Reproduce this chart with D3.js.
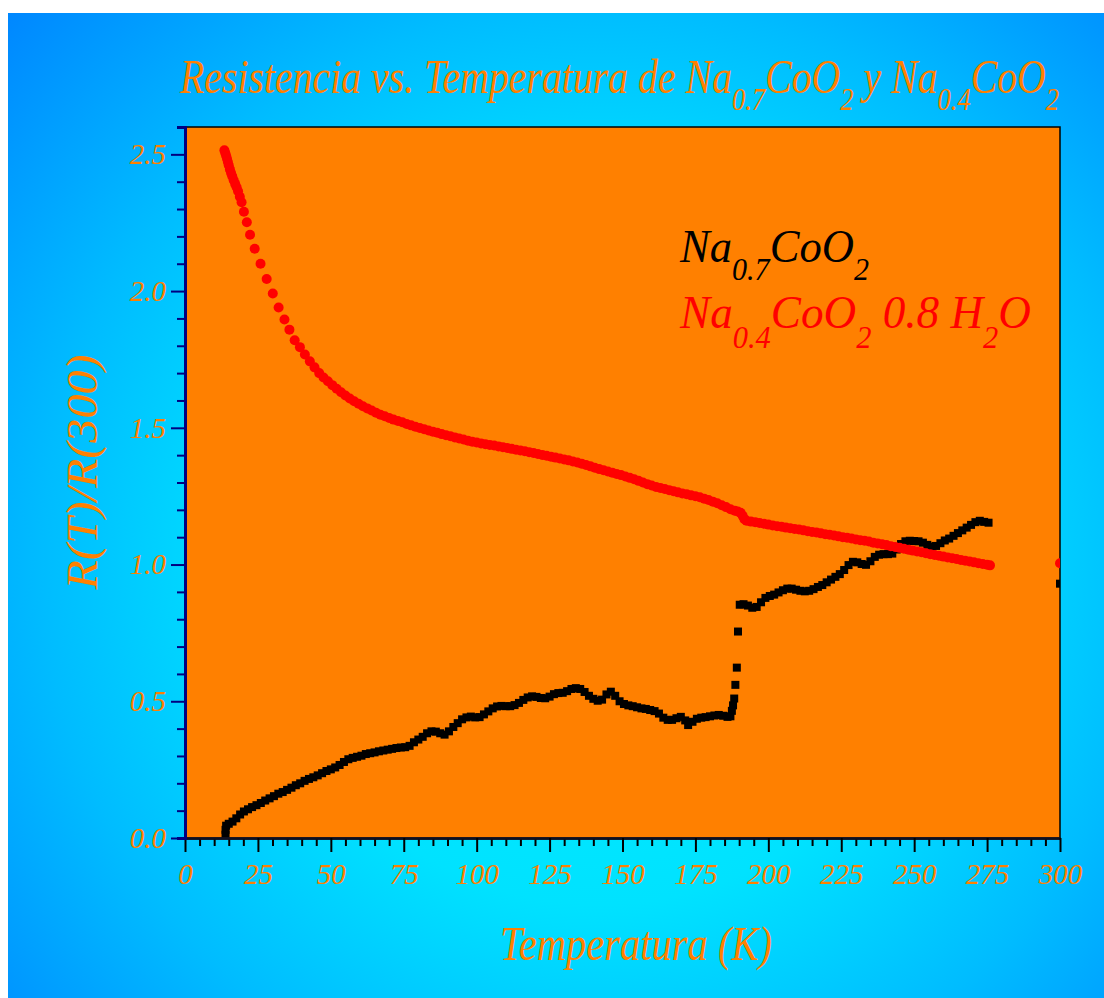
<!DOCTYPE html>
<html>
<head>
<meta charset="utf-8">
<script src="https://cdn.jsdelivr.net/npm/d3@7"></script>
<style>
  html, body { margin: 0; padding: 0; background: #ffffff; }
  svg { display: block; }
</style>
</head>
<body>
<svg id="chart" width="1104" height="998"></svg>
<script>
// Na0.4CoO2·0.8H2O : [temperature (K), R(T)/R(300)]
const na04Points = [
  [13.5,2.515],[13.8,2.505],[14.1,2.495],[14.4,2.484],[14.7,2.472],[15.0,2.46],[15.4,2.445],[15.8,2.432],
  [16.2,2.42],[16.7,2.405],[17.2,2.392],[17.7,2.38],[18.2,2.365],[18.8,2.345],[19.4,2.325],[20.2,2.29],
  [21.2,2.252],[22.3,2.206],[23.9,2.155],[25.9,2.1],[28.0,2.044],[30.1,1.991],[32.1,1.94],[34.1,1.896],
  [35.8,1.859],[37.6,1.82],[39.4,1.795],[41.1,1.768],[42.8,1.743],[44.4,1.721],
  [46,1.7],[47.5,1.684],[49,1.67],[50.5,1.656],[52,1.643],[53.5,1.63],[55,1.618],[56.5,1.607],
  [58,1.597],[59.5,1.588],[61,1.579],[62.5,1.571],[64,1.563],[65.5,1.555],[67,1.548],[68.5,1.542],
  [70,1.536],[71.5,1.53],[73,1.525],[74.5,1.52],[76,1.514],[77.5,1.509],[79,1.504],[80.5,1.499],
  [82,1.495],[83.5,1.49],[85,1.486],[86.5,1.482],[88,1.477],[89.5,1.473],[91,1.469],[92.5,1.465],
  [94,1.461],[95.5,1.457],[97,1.453],[98.5,1.449],[100,1.446],[101.5,1.443],[103,1.44],[104.5,1.437],
  [106,1.435],[107.5,1.432],[109,1.429],[110.5,1.426],[112,1.423],[113.5,1.42],[115,1.417],[116.5,1.414],
  [118,1.411],[119.5,1.408],[121,1.404],[122.5,1.401],[124,1.398],[125.5,1.394],[127,1.391],[128.5,1.388],
  [130,1.384],[131.5,1.381],[133,1.377],[134.5,1.373],[136,1.369],[137.5,1.364],[139,1.359],[140.5,1.354],
  [142,1.349],[143.5,1.345],[145,1.34],[146.5,1.336],[148,1.331],[149.5,1.327],[151,1.322],[152.5,1.317],
  [154,1.312],[155.5,1.306],[157,1.3],[158.5,1.294],[160,1.289],[161.5,1.284],[163,1.28],[164.5,1.276],
  [166,1.272],[167.5,1.268],[169,1.264],[170.5,1.26],[172,1.257],[173.5,1.253],[175,1.25],[176.5,1.246],
  [178,1.241],[179.5,1.236],[181,1.23],[182.5,1.224],[184,1.217],[185.5,1.21],[187,1.202],[188.5,1.197],
  [189.5,1.194],[190.5,1.189],[191.2,1.178],[191.8,1.166],[192.5,1.16],[194,1.157],[195.5,1.155],[197,1.152],
  [198.5,1.149],[200,1.146],[201.5,1.143],[203,1.14],[204.5,1.138],[206,1.135],[207.5,1.133],[209,1.13],
  [210.5,1.128],[212,1.125],[213.5,1.122],[215,1.119],[216.5,1.117],[218,1.114],[219.5,1.111],[221,1.109],
  [222.5,1.106],[224,1.103],[225.5,1.1],[227,1.098],[228.5,1.095],[230,1.092],[231.5,1.089],[233,1.087],
  [234.5,1.084],[236,1.08],[237.5,1.077],[239,1.074],[240.5,1.071],[242,1.067],[243.5,1.064],[245,1.061],
  [246.5,1.058],[248,1.054],[249.5,1.051],[251,1.048],[252.5,1.045],[254,1.041],[255.5,1.038],[257,1.035],
  [258.5,1.032],[260,1.029],[261.5,1.026],[263,1.023],[264.5,1.02],[266,1.017],[267.5,1.014],[269,1.011],
  [270.5,1.008],[272,1.005],[273.5,1.002],[275,0.999],[276,0.997],[300,1.005]
];

// Na0.7CoO2 : [temperature (K), R(T)/R(300)]
const na07Points = [
  [13.9,0.012],[13.9,0.03],[14.1,0.045],[15.0,0.052],[16.3,0.06],[17.6,0.072],[18.9,0.086],[20.2,0.097],
  [21.6,0.105],[23.0,0.113],[24.5,0.12],[26.0,0.128],[27.5,0.137],[29.0,0.145],[30.5,0.153],[32.0,0.162],
  [33.5,0.168],[35.0,0.176],[36.5,0.184],[38.0,0.193],[39.5,0.2],[41.0,0.209],[42.5,0.216],[44.0,0.222],
  [45.5,0.229],[47.0,0.237],[48.5,0.245],[50.0,0.251],[51.5,0.258],[53.0,0.267],[54.5,0.278],[56.0,0.288],
  [57.5,0.293],[59.0,0.297],[60.5,0.301],[62.0,0.307],[63.5,0.31],[65.0,0.313],[66.5,0.317],[68.0,0.32],
  [69.5,0.323],[71.0,0.326],[72.5,0.329],[74.0,0.331],[75.5,0.332],[77.0,0.337],[78.5,0.35],[80.0,0.36],
  [81.5,0.37],[83.0,0.383],[84.5,0.39],[86.0,0.389],[87.5,0.383],[89.0,0.378],[90.5,0.39],[92.0,0.406],
  [93.5,0.42],[95.0,0.434],[96.5,0.441],[98.0,0.444],[99.5,0.441],[101.0,0.442],[102.5,0.452],[104.0,0.463],
  [105.5,0.474],[107.0,0.481],[108.5,0.483],[110.0,0.482],[111.5,0.482],[113.0,0.486],[114.5,0.494],[116.0,0.505],
  [117.5,0.514],[119.0,0.518],[120.5,0.516],[122.0,0.512],[123.5,0.511],[125.0,0.517],[126.5,0.526],[128.0,0.53],
  [129.5,0.531],[131.0,0.537],[132.5,0.545],[134.0,0.548],[135.5,0.545],[137.0,0.534],[138.5,0.52],[140.0,0.509],
  [141.5,0.502],[143.0,0.506],[144.5,0.525],[146.0,0.535],[147.5,0.52],[149.0,0.5],[150.5,0.49],[152.0,0.485],
  [153.5,0.482],[155.0,0.478],[156.5,0.474],[158.0,0.472],[159.5,0.468],[161.0,0.464],[162.5,0.455],[164.0,0.44],
  [165.5,0.432],[167.0,0.432],[168.5,0.438],[170.0,0.443],[171.5,0.43],[172.5,0.413],[174.0,0.425],[175.5,0.436],
  [177.0,0.44],[178.5,0.442],[180.0,0.445],[181.5,0.448],[183.0,0.45],[184.5,0.447],[186.0,0.443],[187.0,0.445],
  [187.5,0.465],[187.9,0.485],[188.3,0.51],[188.7,0.56],[189.2,0.623],[189.6,0.755],[190.2,0.853],[191.5,0.855],
  [193.0,0.85],[194.5,0.842],[196.0,0.845],[197.5,0.862],[199.0,0.878],[200.5,0.885],[202.0,0.89],[203.5,0.898],
  [205.0,0.906],[206.5,0.912],[208.0,0.912],[209.5,0.908],[211.0,0.904],[212.5,0.902],[214.0,0.904],[215.5,0.91],
  [217.0,0.918],[218.5,0.925],[220.0,0.935],[221.5,0.945],[223.0,0.955],[224.5,0.965],[226.0,0.98],[227.5,0.998],
  [229.0,1.01],[230.5,1.008],[232.0,1.002],[233.5,0.999],[235.0,1.012],[236.5,1.028],[238.0,1.036],[239.5,1.038],
  [241.0,1.038],[242.5,1.04],[244.0,1.055],[245.5,1.075],[247.0,1.085],[248.5,1.087],[250.0,1.086],[251.5,1.085],
  [253.0,1.08],[254.5,1.072],[256.0,1.066],[257.5,1.068],[259.0,1.078],[260.5,1.088],[262.0,1.095],[263.5,1.105],
  [265.0,1.115],[266.5,1.125],[268.0,1.135],[269.5,1.145],[271.0,1.155],[272.5,1.16],[274.0,1.156],[275.5,1.153],
  [300,0.93]
];

const xMajorTicks = [0, 25, 50, 75, 100, 125, 150, 175, 200, 225, 250, 275, 300];
const xTickLabels = ["0", "25", "50", "75", "100", "125", "150", "175", "200", "225", "250", "275", "300"];
const yMajorTicks = [0, 0.5, 1.0, 1.5, 2.0, 2.5];
const yTickLabels = ["0.0", "0.5", "1.0", "1.5", "2.0", "2.5"];
const xMinorStep = 5;
const yMinorStep = 0.1;

const titleParts = [
  { t: "Resistencia vs. Temperatura de Na" }, { t: "0.7", sub: true }, { t: "CoO" }, { t: "2", sub: true },
  { t: " y Na" }, { t: "0.4", sub: true }, { t: "CoO" }, { t: "2", sub: true }
];
const legendNa07 = [{ t: "Na" }, { t: "0.7", sub: true }, { t: "CoO" }, { t: "2", sub: true }];
const legendNa04 = [
  { t: "Na" }, { t: "0.4", sub: true }, { t: "CoO" }, { t: "2", sub: true },
  { t: " 0.8 H" }, { t: "2", sub: true }, { t: "O" }
];
const xTitle = "Temperatura (K)";
const yTitle = "R(T)/R(300)";

// ---- layout ----
const svg = d3.select("#chart");
const plot = { left: 185, right: 1060, top: 127, bottom: 838 };
const FONT = "'Liberation Serif', 'Times New Roman', serif";
const ORANGE = "#ff8000";

const x = d3.scaleLinear().domain([0, 300]).range([plot.left, plot.right]);
const y = d3.scaleLinear().domain([0, 2.6]).range([plot.bottom, plot.top]);

const defs = svg.append("defs");
const grad = defs.append("radialGradient")
  .attr("id", "bgGrad").attr("gradientUnits", "userSpaceOnUse")
  .attr("cx", 600).attr("cy", 560).attr("r", 820);
[[0, "#00f2ff"], [0.42, "#00e2ff"], [0.68, "#00bcff"], [1, "#0084ff"]].forEach(([o, c]) =>
  grad.append("stop").attr("offset", o).attr("stop-color", c));

defs.append("clipPath").attr("id", "plotClip").append("rect")
  .attr("x", plot.left).attr("y", plot.top)
  .attr("width", plot.right - plot.left).attr("height", plot.bottom - plot.top);

// page background
svg.append("rect").attr("x", 8).attr("y", 13).attr("width", 1096).attr("height", 985)
  .attr("fill", "url(#bgGrad)");

// plot area
svg.append("rect").attr("x", plot.left).attr("y", plot.top)
  .attr("width", plot.right - plot.left).attr("height", plot.bottom - plot.top)
  .attr("fill", ORANGE);
svg.append("path")
  .attr("d", `M${plot.left},${plot.top}H${plot.right}V${plot.bottom}`)
  .attr("fill", "none").attr("stroke", "#000").attr("stroke-width", 1.5);

// data
const marks = svg.append("g").attr("clip-path", "url(#plotClip)");
marks.append("g").selectAll("rect").data(na07Points).join("rect")
  .attr("x", d => x(d[0]) - 4).attr("y", d => y(d[1]) - 4)
  .attr("width", 8).attr("height", 8).attr("fill", "#000");
marks.append("g").selectAll("circle").data(na04Points).join("circle")
  .attr("cx", d => x(d[0])).attr("cy", d => y(d[1])).attr("r", 5).attr("fill", "#ff0000");

// axes
const xMinor = d3.range(0, 300 + 0.001, xMinorStep).filter(v => v % 25 !== 0);
const yMinor = d3.range(0, 2.6 + 1e-9, yMinorStep).map(v => +v.toFixed(1))
  .filter(v => Math.abs(v * 2 - Math.round(v * 2)) > 1e-6);

const xAxisMinor = svg.append("g").attr("transform", `translate(0,${plot.bottom})`)
  .call(d3.axisBottom(x).tickValues(xMinor).tickSize(8).tickSizeOuter(0).tickFormat(""));
const xAxisMajor = svg.append("g").attr("transform", `translate(0,${plot.bottom})`)
  .call(d3.axisBottom(x).tickValues(xMajorTicks).tickSize(14).tickSizeOuter(0).tickPadding(11)
    .tickFormat((d, i) => xTickLabels[i]));
[xAxisMinor, xAxisMajor].forEach(g => {
  g.select(".domain").attr("stroke", "#101020").attr("stroke-width", 2.5);
  g.selectAll(".tick line").attr("stroke", "#000").attr("stroke-width", 2);
});
xAxisMajor.selectAll(".tick text")
  .attr("fill", ORANGE).attr("font-family", FONT).attr("font-style", "italic").attr("font-size", 29);

const yAxisMinor = svg.append("g").attr("transform", `translate(${plot.left},0)`)
  .call(d3.axisLeft(y).tickValues(yMinor).tickSize(8).tickSizeOuter(8).tickFormat(""));
const yAxisMajor = svg.append("g").attr("transform", `translate(${plot.left},0)`)
  .call(d3.axisLeft(y).tickValues(yMajorTicks).tickSize(14).tickSizeOuter(8).tickPadding(5)
    .tickFormat((d, i) => yTickLabels[i]));
[yAxisMinor, yAxisMajor].forEach(g => {
  g.select(".domain").attr("stroke", "#000080").attr("stroke-width", 3);
  g.selectAll(".tick line").attr("stroke", "#000080").attr("stroke-width", 2);
});
yAxisMajor.selectAll(".tick text")
  .attr("fill", ORANGE).attr("font-family", FONT).attr("font-style", "italic").attr("font-size", 29);

// rich text with subscripts, squeezed horizontally to a target width
function richText(px, py, parts, opts) {
  const g = svg.append("g");
  const text = g.append("text")
    .attr("font-family", FONT).attr("font-style", "italic")
    .attr("font-size", opts.size).attr("fill", opts.color);
  let shifted = false;
  parts.forEach(p => {
    const ts = text.append("tspan").text(p.t);
    if (p.sub) {
      ts.attr("font-size", opts.subSize);
      if (!shifted) { ts.attr("dy", opts.shift); shifted = true; }
    } else if (shifted) {
      ts.attr("dy", -opts.shift); shifted = false;
    }
  });
  text.attr("xml:space", "preserve").style("white-space", "pre");
  const w = text.node().getBBox().width;
  const sx = opts.width / w;
  g.attr("transform", `translate(${px},${py}) scale(${sx},1)`);
  return g;
}

richText(180, 93, titleParts, { size: 48, subSize: 32, shift: 17, color: ORANGE, width: 880 });
richText(680, 262, legendNa07, { size: 46, subSize: 31, shift: 18, color: "#000", width: 190 });
richText(680, 328, legendNa04, { size: 46, subSize: 31, shift: 20, color: "#ff0000", width: 352 });

// axis titles
svg.append("text")
  .attr("x", 636).attr("y", 960).attr("text-anchor", "middle")
  .attr("font-family", FONT).attr("font-style", "italic").attr("font-size", 48)
  .attr("fill", ORANGE).attr("textLength", 272).attr("lengthAdjust", "spacingAndGlyphs")
  .text(xTitle);
svg.append("text")
  .attr("transform", "translate(97,472) rotate(-90)").attr("text-anchor", "middle")
  .attr("font-family", FONT).attr("font-style", "italic").attr("font-size", 45)
  .attr("fill", ORANGE).attr("textLength", 235).attr("lengthAdjust", "spacingAndGlyphs")
  .text(yTitle);
</script>
</body>
</html>
